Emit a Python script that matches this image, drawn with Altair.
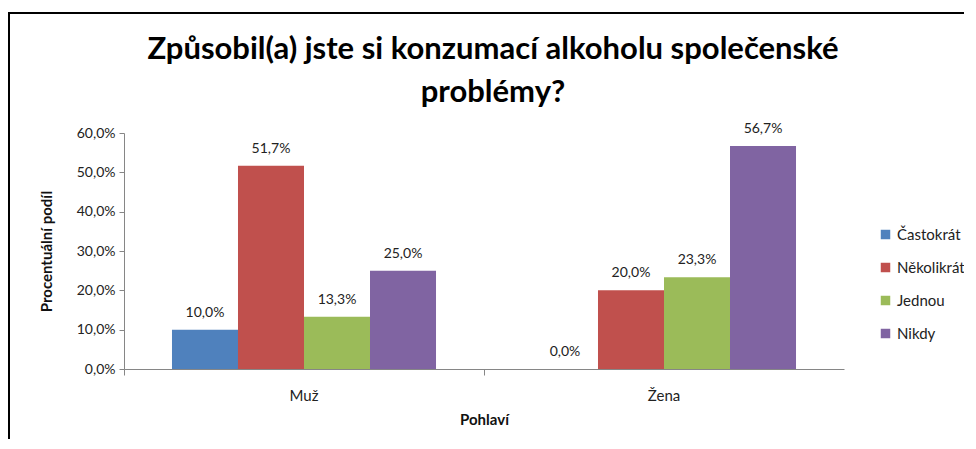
import altair as alt
import pandas as pd

groups = ["Muž", "Žena"]
series = ["Častokrát", "Několikrát", "Jednou", "Nikdy"]
colors = ["#4F81BD", "#C0504D", "#9BBB59", "#8064A2"]
muz = [10.0, 51.7, 13.3, 25.0]
zena = [0.0, 20.0, 23.3, 56.7]
title_lines = ["Způsobil(a) jste si konzumací alkoholu společenské", "problémy?"]

rows = []
for g, vals in zip(groups, [muz, zena]):
    for s, v in zip(series, vals):
        rows.append({"Pohlaví": g, "Četnost": s, "v": v,
                     "lab": f"{v:.1f}%".replace(".", ",")})
df = pd.DataFrame(rows)

FONT = "Lato"

x = alt.X("Pohlaví:N", sort=groups, title="Pohlaví",
          scale=alt.Scale(paddingInner=0, paddingOuter=0),
          axis=alt.Axis(bandPosition=0, labelAngle=0, labelFontSize=15, labelPadding=13,
                        labelColor="#222", titleFontSize=15, titleFontWeight="bold",
                        titlePadding=9, titleColor="#111", tickSize=6,
                        domainColor="#868686", tickColor="#868686", grid=False))
xo = alt.XOffset("Četnost:N", sort=series,
                 scale=alt.Scale(paddingOuter=0.727, paddingInner=0))
y = alt.Y("v:Q", title="Procentuální podíl",
          scale=alt.Scale(domain=[0, 60]),
          axis=alt.Axis(values=[0, 10, 20, 30, 40, 50, 60], grid=False,
                        labelExpr="replace(format(datum.value, '.1f'), '.', ',') + '%'",
                        labelFontSize=14, labelColor="#222", labelPadding=4, tickSize=5,
                        domainColor="#868686", tickColor="#868686",
                        titleFontSize=15, titleFontWeight="bold", titleColor="#111",
                        titlePadding=22))

color = alt.Color("Četnost:N", sort=series,
                  scale=alt.Scale(domain=series, range=colors),
                  legend=alt.Legend(title=None, orient="none", legendX=754, legendY=94,
                                    symbolType="square", symbolSize=90, symbolStrokeWidth=0,
                                    labelFontSize=15, labelColor="#222", rowPadding=17,
                                    labelOffset=4, padding=0))

bars = alt.Chart(df).mark_bar().encode(x=x, xOffset=xo, y=y, color=color)
text = alt.Chart(df).mark_text(baseline="middle", dy=-17, fontSize=14, color="#222",
                               font=FONT).encode(
    x=x, xOffset=xo, y=y, text="lab:N")

one = pd.DataFrame({"a": [0]})
top = alt.Chart(one).mark_rule(color="#000", strokeWidth=2).encode(
    x=alt.value(-115), x2=alt.value(860), y=alt.value(-120))
left = alt.Chart(one).mark_rule(color="#000", strokeWidth=2).encode(
    x=alt.value(-115), y=alt.value(-121), y2=alt.value(320))

t1 = alt.Chart(one).mark_text(text=title_lines[0], fontSize=31, fontWeight="bold",
                              font=FONT, color="#000", align="center",
                              baseline="middle").encode(x=alt.value(369), y=alt.value(-83))
t2 = alt.Chart(one).mark_text(text=title_lines[1], fontSize=31, fontWeight="bold",
                              font=FONT, color="#000", align="center",
                              baseline="middle").encode(x=alt.value(369), y=alt.value(-40))

chart = alt.layer(bars, text, top, left, t1, t2).properties(
    width=720, height=236,
    autosize=alt.AutoSizeParams(type="none"),
    padding={"left": 116, "top": 125, "right": 120, "bottom": 70},
).configure(font=FONT).configure_view(stroke=None)

chart.save("out.html", embed_options={"renderer": "svg", "actions": False})
